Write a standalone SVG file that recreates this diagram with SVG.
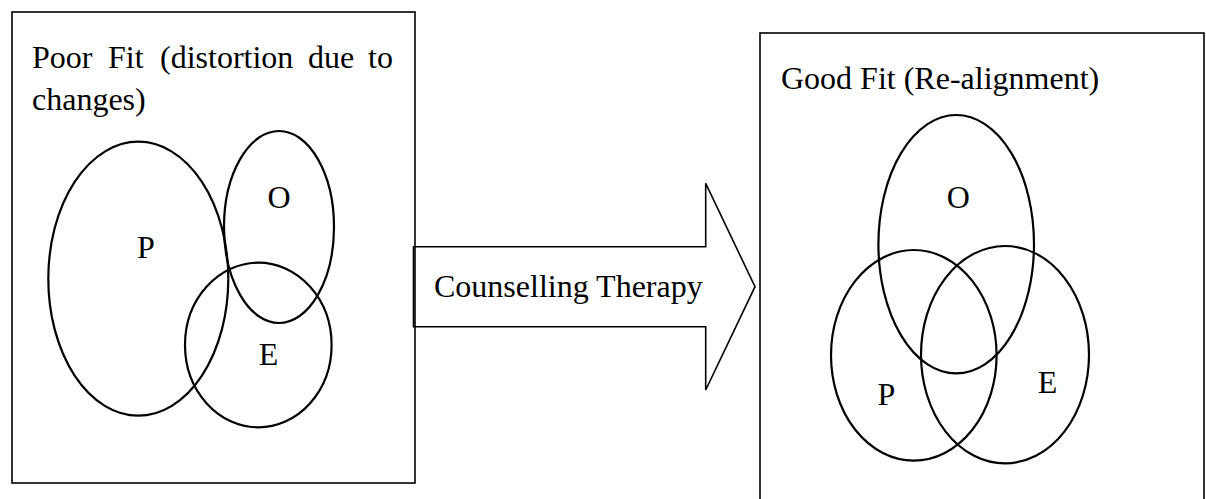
<svg xmlns="http://www.w3.org/2000/svg" width="1206" height="499" viewBox="0 0 1206 499">
<style>
.box{fill:none;stroke:#000;stroke-width:1.6}
.ell{fill:none;stroke:#000;stroke-width:2.2}
.t{font-family:"Liberation Serif","Times New Roman",serif;font-size:32px;fill:#000}
.lbl{font-family:"Liberation Serif","Times New Roman",serif;font-size:32px;fill:#000;text-anchor:middle}
</style>
<rect width="1206" height="499" fill="#fff"/>
<g id="poor-fit">
<rect class="box" x="12" y="12" width="403" height="471"/>
<text class="t" y="68"><tspan x="32">Poor</tspan><tspan x="108">Fit</tspan><tspan x="160">(distortion</tspan><tspan x="308">due</tspan><tspan x="368">to</tspan></text>
<text class="t" x="32" y="110">changes)</text>
<ellipse class="ell" cx="138.3" cy="278.7" rx="90" ry="137"/>
<ellipse class="ell" cx="279" cy="227" rx="55" ry="96"/>
<ellipse class="ell" cx="258.3" cy="345" rx="73.3" ry="82.3"/>
<text class="lbl" x="146" y="258">P</text>
<text class="lbl" x="279" y="208">O</text>
<text class="lbl" x="268.5" y="365">E</text>
</g>
<g id="connectors">
<polygon class="box" points="413.5,246.7 705.7,246.7 705.7,183.3 755,286.7 705.7,390 705.7,326.7 413.5,326.7" fill="#fff"/>
<text class="t" x="434" y="297">Counselling Therapy</text>
</g>
<g id="good-fit">
<rect class="box" x="760" y="33" width="444" height="500"/>
<text class="t" x="781" y="89">Good Fit (Re-alignment)</text>
<ellipse class="ell" cx="956.2" cy="244.2" rx="77.8" ry="129.2"/>
<ellipse class="ell" cx="913.8" cy="355.3" rx="82.8" ry="105.3"/>
<ellipse class="ell" cx="1005" cy="354.7" rx="84" ry="108.7"/>
<text class="lbl" x="958.3" y="208">O</text>
<text class="lbl" x="886.5" y="405">P</text>
<text class="lbl" x="1047.5" y="392.5">E</text>
</g>
</svg>
